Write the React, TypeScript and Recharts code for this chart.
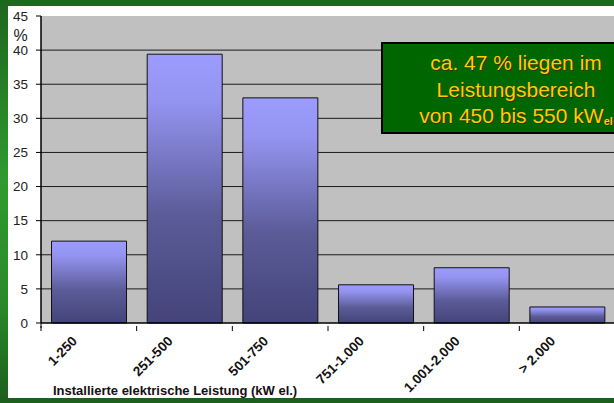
import React from "react";
import { BarChart, Bar, XAxis, YAxis, CartesianGrid } from "recharts";

const categories = ["1-250", "251-500", "501-750", "751-1.000", "1.001-2.000", "> 2.000"];
const shares = [12.0, 39.4, 33.0, 5.6, 8.1, 2.35];
const yTicks = [0, 5, 10, 15, 20, 25, 30, 35, 40, 45];
const gridValues = [5, 10, 15, 20, 25, 30, 35, 40];
const noteLines = ["ca. 47 % liegen im", "Leistungsbereich", "von 450 bis 550 kW"];
const noteSub = "el";
const xTitle = "Installierte elektrische Leistung (kW el.)";
const yUnit = "%";

const data = categories.map((c, i) => ({ name: c, value: shares[i] }));

const FONT = "'Liberation Sans', Arial, sans-serif";

const XTick = (props: any) => {
  const { x, y, payload } = props;
  const half = payload && payload.offset ? payload.offset : 47.75;
  const lx = x - 11;
  const ly = y + 11;
  return (
    <g>
      <line x1={x - half} y1={y - 5} x2={x - half} y2={y} stroke="#000" strokeWidth={1} />
      <text
        x={lx}
        y={ly}
        transform={`rotate(-45, ${lx}, ${ly})`}
        textAnchor="end"
        fontFamily={FONT}
        fontWeight="bold"
        fontSize={13.5}
        fill="#111"
      >
        {payload.value}
      </text>
    </g>
  );
};

export default function App() {
  return (
    <div style={{ position: "fixed", left: 0, top: 0, width: 614, height: 403, overflow: "hidden" }}>
      <div
        style={{
          position: "absolute",
          left: 0,
          top: 0,
          width: 614,
          height: 403,
          background: "linear-gradient(180deg, #1e661e 0%, #2f9a2f 45%, #2a8a2a 75%, #1c5e1c 100%)",
        }}
      />
      <div style={{ position: "absolute", left: 8, top: 6, width: 606, height: 392, background: "#fff" }} />
      <div style={{ position: "absolute", left: 0, top: 0 }}>
        <BarChart
          width={615}
          height={403}
          data={data}
          margin={{ top: 16, right: 0, left: 0, bottom: 0 }}
          barCategoryGap="11%"
        >
          <defs>
            <linearGradient id="barGrad" x1="0" y1="0" x2="0" y2="1">
              <stop offset="0%" stopColor="#9c9cff" />
              <stop offset="18%" stopColor="#9393f0" />
              <stop offset="60%" stopColor="#5b5b98" />
              <stop offset="100%" stopColor="#44447a" />
            </linearGradient>
          </defs>
          <CartesianGrid
            fill="#c0c0c0"
            vertical={false}
            horizontalValues={gridValues}
            stroke="#1a1a1a"
            strokeWidth={1}
          />
          <XAxis
            dataKey="name"
            height={80}
            axisLine={{ stroke: "#000", strokeWidth: 1.5 }}
            tickLine={false}
            interval={0}
            tick={<XTick />}
          />
          <YAxis
            width={41}
            domain={[0, 45]}
            ticks={yTicks}
            interval={0}
            tickSize={5}
            tickMargin={8}
            axisLine={{ stroke: "#000", strokeWidth: 1.5 }}
            tickLine={{ stroke: "#000" }}
            tick={{ fontFamily: FONT, fontSize: 13.5, fill: "#222" }}
          />
          <Bar dataKey="value" fill="url(#barGrad)" stroke="#111" strokeWidth={1} isAnimationActive={false} />
        </BarChart>
      </div>
      <svg style={{ position: "absolute", left: 0, top: 0 }} width={614} height={403}>
        <line x1={41} y1={323} x2={41} y2={328} stroke="#000" strokeWidth={1} />
        <text x={20.5} y={41} textAnchor="middle" fontFamily={FONT} fontSize={16} fill="#222">
          {yUnit}
        </text>
        <text x={53} y={395} fontFamily={FONT} fontWeight="bold" fontSize={13} fill="#111">
          {xTitle}
        </text>
        <rect x={382} y={43} width={240} height={90} fill="#006600" stroke="#000" strokeWidth={2} />
        {noteLines.map((t, i) => (
          <text
            key={"s" + i}
            x={516 + 1}
            y={70 + i * 26.5 + 1}
            textAnchor="middle"
            fontFamily={FONT}
            fontSize={21}
            fill="#3a2a00"
          >
            {t}
            {i === 2 ? (
              <tspan fontSize={11} fontWeight="bold" dy={2}>
                {noteSub}
              </tspan>
            ) : null}
          </text>
        ))}
        {noteLines.map((t, i) => (
          <text
            key={"t" + i}
            x={516}
            y={70 + i * 26.5}
            textAnchor="middle"
            fontFamily={FONT}
            fontSize={21}
            fill="#ffcc00"
          >
            {t}
            {i === 2 ? (
              <tspan fontSize={11} fontWeight="bold" dy={2}>
                {noteSub}
              </tspan>
            ) : null}
          </text>
        ))}
      </svg>
    </div>
  );
}
